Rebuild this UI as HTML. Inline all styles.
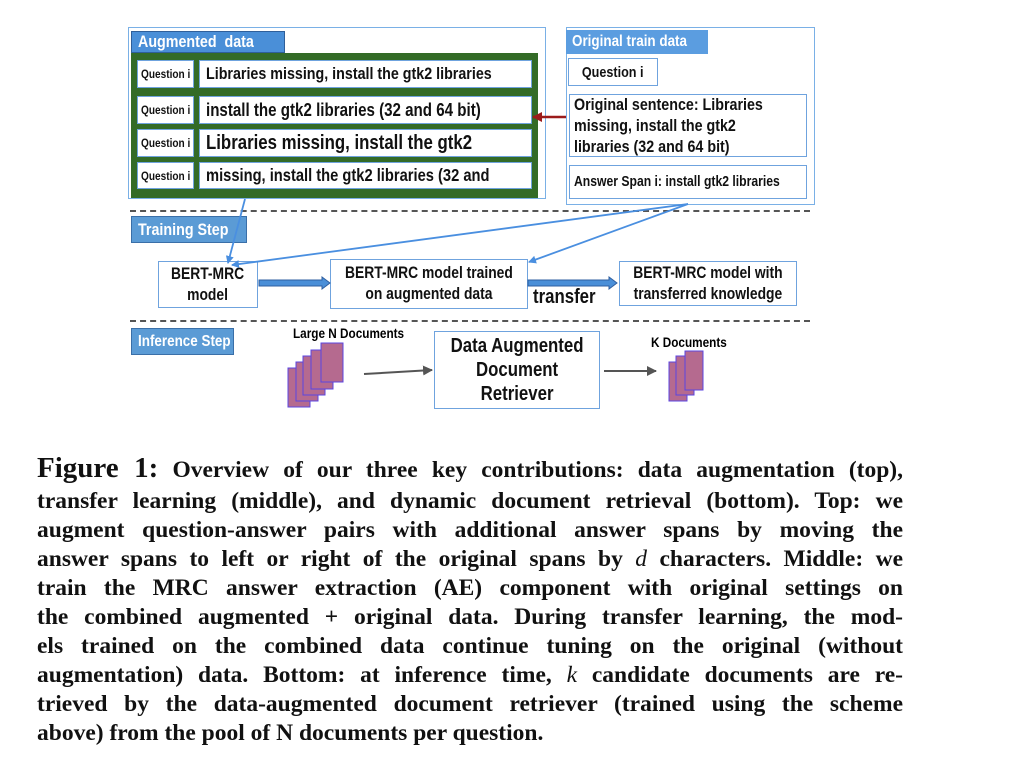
<!DOCTYPE html>
<html><head><meta charset="utf-8"><style>
body{margin:0;width:1021px;height:771px;background:#fff;position:relative;overflow:hidden;font-family:"Liberation Sans",sans-serif;}
.a{position:absolute;box-sizing:border-box;}
.bx{position:absolute;box-sizing:border-box;background:#fff;border:1.5px solid #6fa3de;font-weight:bold;color:#111;display:flex;align-items:center;white-space:nowrap;}
.lab{position:absolute;box-sizing:border-box;color:#fff;font-weight:bold;display:flex;align-items:center;padding-left:6px;white-space:nowrap;}
.n{display:inline-block;flex-shrink:0;transform:scaleX(.84);transform-origin:left center;}
.nc{display:inline-block;flex-shrink:0;transform:scaleX(.84);transform-origin:center center;}
.q{font-size:14px;justify-content:center;}
.qa{font-size:12px;padding-left:3px;}
.t{font-size:15px;padding-left:6px;}
.c{justify-content:center;text-align:center;}
.cap{position:absolute;left:37px;width:866px;font-family:"Liberation Serif",serif;font-weight:bold;font-size:23.5px;line-height:29px;text-align:justify;text-align-last:justify;white-space:nowrap;color:#111;}
</style></head><body>
<div class="a" style="left:128px;top:27px;width:418px;height:172px;border:1px solid #7ab0e6"></div>
<div class="lab" style="left:131px;top:31px;width:154px;height:22px;background:#4a8fd8;border:1px solid #2f5f9a;font-size:17px"><span class="n">Augmented&nbsp; data</span></div>
<div class="a" style="left:131px;top:53px;width:407px;height:145px;background:#336b27"></div>
<div class="bx qa" style="left:137px;top:60px;width:57px;height:28px"><span class="n">Question i</span></div>
<div class="bx t" style="left:199px;top:60px;width:333px;height:28px;font-size:17px"><span class="n">Libraries missing, install the gtk2 libraries</span></div>
<div class="bx qa" style="left:137px;top:96px;width:57px;height:28px"><span class="n">Question i</span></div>
<div class="bx t" style="left:199px;top:96px;width:333px;height:28px;font-size:18px"><span class="n">install the gtk2 libraries (32 and 64 bit)</span></div>
<div class="bx qa" style="left:137px;top:129px;width:57px;height:28px"><span class="n">Question i</span></div>
<div class="bx t" style="left:199px;top:129px;width:333px;height:28px;font-size:20px"><span class="n">Libraries missing, install the gtk2</span></div>
<div class="bx qa" style="left:137px;top:162px;width:57px;height:27px"><span class="n">Question i</span></div>
<div class="bx t" style="left:199px;top:162px;width:333px;height:27px;font-size:17.5px"><span class="n">missing, install the gtk2 libraries (32 and</span></div>

<div class="a" style="left:566px;top:27px;width:249px;height:178px;border:1px solid #7ab0e6"></div>
<div class="lab" style="left:566px;top:30px;width:142px;height:24px;background:#5b9de0;font-size:16px"><span class="n">Original train data</span></div>
<div class="bx q" style="left:568px;top:58px;width:90px;height:28px;font-size:15px"><span class="nc">Question i</span></div>
<div class="bx" style="left:569px;top:94px;width:238px;height:63px;font-size:17px;line-height:21px;padding-left:4px"><span class="n">Original sentence: Libraries<br>missing, install the gtk2<br>libraries (32 and 64 bit)</span></div>
<div class="bx" style="left:569px;top:165px;width:238px;height:34px;font-size:14.5px;padding-left:4px"><span class="n">Answer Span i: install gtk2 libraries</span></div>

<div class="a" style="left:130px;top:210px;width:680px;border-top:2px dashed #555"></div>
<div class="a" style="left:130px;top:320px;width:680px;border-top:2px dashed #555"></div>

<div class="lab" style="left:131px;top:216px;width:116px;height:27px;background:#5b9bd5;border:1px solid #3a6fa8;font-size:17px"><span class="n">Training Step</span></div>
<div class="bx c" style="left:158px;top:261px;width:100px;height:47px;font-size:16.5px;line-height:21px"><span class="nc">BERT-MRC<br>model</span></div>
<div class="bx c" style="left:330px;top:259px;width:198px;height:50px;font-size:16.5px;line-height:21px"><span class="nc">BERT-MRC model trained<br>on augmented data</span></div>
<div class="bx c" style="left:619px;top:261px;width:178px;height:45px;font-size:16.5px;line-height:21px"><span class="nc">BERT-MRC model with<br>transferred knowledge</span></div>
<div class="a" style="left:533px;top:286px;font-size:20px;font-weight:bold;color:#111"><span class="n">transfer</span></div>

<div class="lab" style="left:131px;top:328px;width:103px;height:27px;background:#5b9bd5;border:1px solid #3a6fa8;font-size:16px"><span class="n">Inference Step</span></div>
<div class="bx c" style="left:434px;top:331px;width:166px;height:78px;font-size:20px;line-height:24px"><span class="nc">Data Augmented<br>Document<br>Retriever</span></div>
<div class="a" style="left:293px;top:325px;font-size:14px;font-weight:bold;white-space:nowrap"><span class="n">Large N Documents</span></div>
<div class="a" style="left:651px;top:334px;font-size:14px;font-weight:bold;white-space:nowrap"><span class="n">K Documents</span></div>

<svg class="a" style="left:0;top:0" width="1021" height="771">
<defs>
<marker id="b" markerWidth="8" markerHeight="8" refX="7" refY="4" orient="auto" markerUnits="userSpaceOnUse" viewBox="0 0 8 8"><path d="M0,0L8,4L0,8z" fill="#4a8fe0"/></marker>
<marker id="g" markerWidth="10" markerHeight="10" refX="9" refY="5" orient="auto" markerUnits="userSpaceOnUse" viewBox="0 0 10 10"><path d="M0,0L10,5L0,10z" fill="#555"/></marker>
<marker id="r" markerWidth="10" markerHeight="10" refX="9" refY="5" orient="auto" markerUnits="userSpaceOnUse" viewBox="0 0 10 10"><path d="M0,0L10,5L0,10z" fill="#9b1b1b"/></marker>
</defs>
<line x1="566" y1="117" x2="533" y2="117" stroke="#9b1b1b" stroke-width="2.5" marker-end="url(#r)"/>
<line x1="245" y1="199" x2="228" y2="263" stroke="#4a8fe0" stroke-width="1.8" marker-end="url(#b)"/>
<line x1="688" y1="204" x2="232" y2="265" stroke="#4a8fe0" stroke-width="1.8" marker-end="url(#b)"/>
<line x1="688" y1="204" x2="529" y2="262" stroke="#4a8fe0" stroke-width="1.8" marker-end="url(#b)"/>
<g stroke="#2f5fa0" fill="#4a8fd8" stroke-width="1">
<path d="M259,280 H322 V277 L330,283 L322,289 V286 H259Z"/>
<path d="M528,280 H609 V277 L617,283 L609,289 V286 H528Z"/>
</g>
<line x1="364" y1="374" x2="432" y2="370" stroke="#555" stroke-width="2" marker-end="url(#g)"/>
<line x1="604" y1="371" x2="656" y2="371" stroke="#555" stroke-width="2" marker-end="url(#g)"/>
<g fill="#b56a8f" stroke="#5b45e0" stroke-width="1">
<rect x="288" y="368" width="22" height="39"/>
<rect x="296" y="362" width="22" height="39"/>
<rect x="303" y="356" width="22" height="39"/>
<rect x="311" y="350" width="22" height="39"/>
<rect x="321" y="343" width="22" height="39"/>
<rect x="669" y="362" width="18" height="39"/>
<rect x="676" y="356" width="18" height="39"/>
<rect x="685" y="351" width="18" height="39"/>
</g>
</svg>

<div class="cap" style="top:454px"><span style="font-size:29px">Figure 1:</span> Overview of our three key contributions: data augmentation (top),</div>
<div class="cap" style="top:487px">transfer learning (middle), and dynamic document retrieval (bottom). Top: we</div>
<div class="cap" style="top:516px">augment question-answer pairs with additional answer spans by moving the</div>
<div class="cap" style="top:545px">answer spans to left or right of the original spans by <i style="font-weight:normal">d</i> characters. Middle: we</div>
<div class="cap" style="top:574px">train the MRC answer extraction (AE) component with original settings on</div>
<div class="cap" style="top:603px">the combined augmented + original data. During transfer learning, the mod-</div>
<div class="cap" style="top:632px">els trained on the combined data continue tuning on the original (without</div>
<div class="cap" style="top:661px">augmentation) data. Bottom: at inference time, <i style="font-weight:normal">k</i> candidate documents are re-</div>
<div class="cap" style="top:690px">trieved by the data-augmented document retriever (trained using the scheme</div>
<div class="cap" style="top:719px;text-align-last:left">above) from the pool of N documents per question.</div>
</body></html>
